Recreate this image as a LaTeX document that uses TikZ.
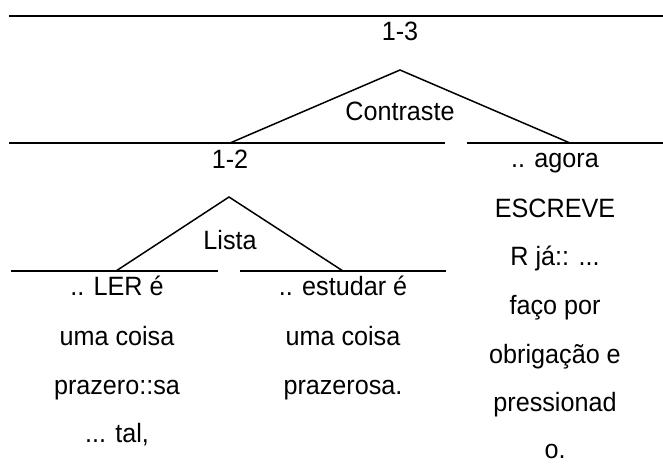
\documentclass[tikz,border=0pt]{standalone}
\usepackage{fontspec}
\setmainfont[FakeStretch=0.95]{Liberation Sans}
\begin{document}
\begin{tikzpicture}[x=1pt,y=-1pt,
  txt/.style={font=\fontsize{26.5}{30}\selectfont, anchor=base, inner sep=0pt},
  rule/.style={line width=1.7pt},
  branch/.style={line width=1.5pt}]
\useasboundingbox (0,0) rectangle (663,464);
% horizontal rules
\coordinate (r1a) at (9,16);   \coordinate (r1b) at (663,16);
\coordinate (r2a) at (9,143);  \coordinate (r2b) at (445,143);
\coordinate (r3a) at (467,143);\coordinate (r3b) at (663,143);
\coordinate (r4a) at (11,271); \coordinate (r4b) at (218,271);
\coordinate (r5a) at (240,271);\coordinate (r5b) at (446,271);
\draw[rule] (r1a) -- (r1b);
\draw[rule] (r2a) -- (r2b);
\draw[rule] (r3a) -- (r3b);
\draw[rule] (r4a) -- (r4b);
\draw[rule] (r5a) -- (r5b);
% Contraste triangle
\coordinate (cA) at (400,70);
\coordinate (cL) at (230,143);
\coordinate (cR) at (570,143);
\draw[branch] (cL) -- (cA) -- (cR);
% Lista triangle
\coordinate (lA) at (229,197);
\coordinate (lL) at (116,271);
\coordinate (lR) at (343,271);
\draw[branch] (lL) -- (lA) -- (lR);
% labels
\node[txt] (n13) at (400,40) {1-3};
\node[txt] (contr) at (400,120) {Contraste};
\node[txt] (n12) at (230,168) {1-2};
\node[txt] (lista) at (230,249) {Lista};
% left column
\node[txt] (a1) at (117,295) {.. LER é};
\node[txt] (a2) at (117,345) {uma coisa};
\node[txt] (a3) at (117,394) {prazero::sa};
\node[txt] (a4) at (117,442) {... tal,};
% middle column
\node[txt] (b1) at (343,295) {.. estudar é};
\node[txt] (b2) at (343,345) {uma coisa};
\node[txt] (b3) at (343,394) {prazerosa.};
% right column
\node[txt] (c1) at (555,167) {.. agora};
\node[txt] (c2) at (555,217) {ESCREVE};
\node[txt] (c3) at (555,265) {R já:: ...};
\node[txt] (c4) at (555,314) {faço por};
\node[txt] (c5) at (555,363) {obrigação e};
\node[txt] (c6) at (555,411) {pressionad};
\node[txt] (c7) at (555,458) {o.};
\end{tikzpicture}
\end{document}
